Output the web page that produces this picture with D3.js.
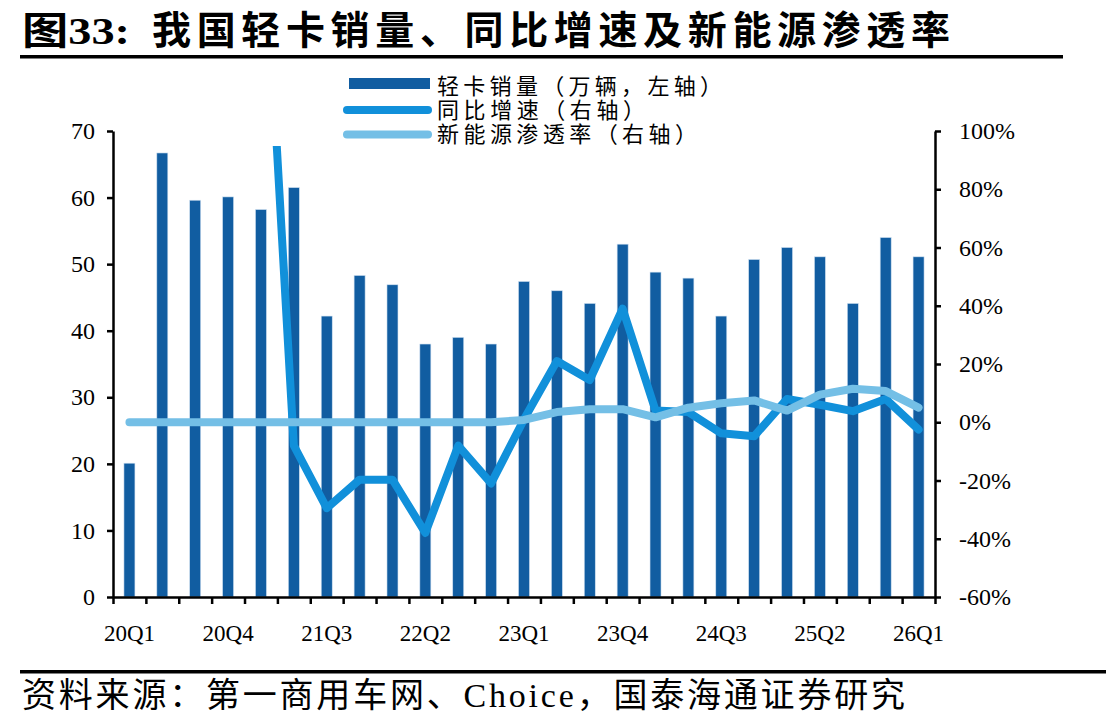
<!DOCTYPE html>
<html>
<head>
  <meta charset="utf-8">
  <title>轻卡销量</title>
  <style>
    body { margin: 0; background: #fff; }
    text { font-family: "Liberation Serif", "Noto Sans CJK SC", serif; fill: #000; }
  </style>
</head>
<body>
  <div id="chart"></div>
  <script src="https://cdn.jsdelivr.net/npm/d3@7"></script>
  <script>
    // quarters 20Q1 ~ 26Q1
    const quarters = ["20Q1","20Q2","20Q3","20Q4","21Q1","21Q2","21Q3","21Q4","22Q1","22Q2","22Q3","22Q4",
      "23Q1","23Q2","23Q3","23Q4","24Q1","24Q2","24Q3","24Q4","25Q1","25Q2","25Q3","25Q4","26Q1"];
    const tickLabels = ["20Q1","20Q4","21Q3","22Q2","23Q1","23Q4","24Q3","25Q2","26Q1"];
    // 轻卡销量（万辆）
    const sales = [20.1, 66.7, 59.6, 60.1, 58.2, 61.5, 42.2, 48.3, 46.9, 38.0, 39.0, 38.0,
      47.4, 46.0, 44.1, 53.0, 48.8, 47.9, 42.2, 50.7, 52.5, 51.1, 44.1, 54.0, 51.1];
    // 同比增速 (%)
    const yoy = [null, null, null, null, 190, -8, -29.5, -19.7, -19.7, -38, -8, -21,
      1, 21, 14.5, 39, 4, 3.5, -3.8, -4.8, 8, 6, 3.8, 8, -2.5];
    // 新能源渗透率 (%)
    const nev = [0, 0, 0, 0, 0, 0, 0, 0, 0, 0, 0, 0,
      0.8, 3.5, 4.5, 4.5, 1.7, 5, 6.5, 7.5, 4, 9.5, 11.5, 10.7, 5];
    const leftTicks = [0, 10, 20, 30, 40, 50, 60, 70];
    const rightTicks = [-60, -40, -20, 0, 20, 40, 60, 80, 100];
    const legendNames = ["轻卡销量（万辆，左轴）", "同比增速（右轴）", "新能源渗透率（右轴）"];

    const W = 1106, H = 728;
    const plot = { left: 113, right: 935, top: 131, bottom: 597 };

    const svg = d3.select("#chart").append("svg")
      .attr("width", W).attr("height", H);

    // title
    svg.append("text").attr("x", 22).attr("y", 44)
      .attr("font-size", 38).attr("font-weight", "bold")
      .attr("textLength", 108).attr("lengthAdjust", "spacingAndGlyphs")
      .text("图33:");
    svg.append("text").attr("x", 152).attr("y", 44)
      .attr("font-size", 39).attr("font-weight", "bold")
      .attr("font-family", "Noto Sans CJK SC")
      .attr("textLength", 798).attr("lengthAdjust", "spacing")
      .text("我国轻卡销量、同比增速及新能源渗透率");
    svg.append("rect").attr("x", 20).attr("y", 55).attr("width", 1043).attr("height", 3.5).attr("fill", "#000");

    // source
    svg.append("rect").attr("x", 20).attr("y", 670).attr("width", 1086).attr("height", 3.5).attr("fill", "#000");
    svg.append("text").attr("x", 22).attr("y", 707)
      .attr("font-size", 34)
      .attr("textLength", 883).attr("lengthAdjust", "spacing")
      .text("资料来源：第一商用车网、Choice，国泰海通证券研究");

    // scales
    const x = d3.scaleBand().domain(quarters).range([plot.left, plot.right]).padding(0);
    const xi = d3.scaleLinear().domain([0, quarters.length]).range([plot.left, plot.right]);
    const yL = d3.scaleLinear().domain([0, 70]).range([plot.bottom, plot.top]);
    const yR = d3.scaleLinear().domain([-60, 100]).range([plot.bottom, plot.top]);
    const cx = d => x(d) + x.bandwidth() / 2;
    const barW = 11;

    // bars
    svg.append("g").selectAll("rect")
      .data(quarters)
      .enter().append("rect")
      .attr("x", (d) => cx(d) - barW / 2)
      .attr("y", (d, i) => yL(sales[i]))
      .attr("width", barW)
      .attr("height", (d, i) => yL(0) - yL(sales[i]))
      .attr("fill", "#115da1")
      .attr("stroke", "#cfe0f1")
      .attr("stroke-width", 0.6);

    // lines (yoy clipped just below the legend)
    svg.append("clipPath").attr("id", "clip")
      .append("rect").attr("x", 0).attr("y", 146).attr("width", W).attr("height", plot.bottom - 146 + 10);

    const line = d3.line()
      .defined(d => d.v != null)
      .x(d => cx(d.q))
      .y(d => yR(d.v));

    svg.append("path")
      .datum(quarters.map((q, i) => ({ q, v: yoy[i] })))
      .attr("clip-path", "url(#clip)")
      .attr("d", line)
      .attr("fill", "none")
      .attr("stroke", "#1190da")
      .attr("stroke-width", 8)
      .attr("stroke-linejoin", "round")
      .attr("stroke-linecap", "round");

    svg.append("path")
      .datum(quarters.map((q, i) => ({ q, v: nev[i] })))
      .attr("d", line)
      .attr("fill", "none")
      .attr("stroke", "#74bfe6")
      .attr("stroke-width", 8)
      .attr("stroke-linejoin", "round")
      .attr("stroke-linecap", "round");

    // axes
    const gL = svg.append("g")
      .attr("transform", `translate(${plot.left},0)`)
      .call(d3.axisLeft(yL).tickValues(leftTicks).tickSize(6).tickSizeOuter(0).tickPadding(12));
    const gR = svg.append("g")
      .attr("transform", `translate(${plot.right},0)`)
      .call(d3.axisRight(yR).tickValues(rightTicks).tickSize(6).tickSizeOuter(0).tickPadding(18)
        .tickFormat(d => d + "%"));
    const gX = svg.append("g")
      .attr("transform", `translate(0,${plot.bottom})`)
      .call(d3.axisBottom(xi).tickValues(d3.range(quarters.length + 1)).tickSize(7).tickSizeOuter(0).tickFormat(""));

    [gL, gR, gX].forEach(g => {
      g.selectAll("path, line").attr("stroke", "#000").attr("stroke-width", 2.5);
      g.selectAll("text").attr("font-size", 24).attr("font-family", "Liberation Serif").attr("fill", "#000");
    });

    svg.append("g").selectAll("text")
      .data(tickLabels)
      .enter().append("text")
      .attr("x", d => cx(d))
      .attr("y", 641)
      .attr("text-anchor", "middle")
      .attr("font-size", 23)
      .attr("font-family", "Liberation Serif")
      .text(d => d);

    // legend
    const lg = svg.append("g");
    lg.append("rect").attr("x", 349).attr("y", 78).attr("width", 81).attr("height", 11).attr("fill", "#115da1");
    lg.append("line").attr("x1", 347).attr("x2", 428).attr("y1", 110).attr("y2", 110)
      .attr("stroke", "#1190da").attr("stroke-width", 8).attr("stroke-linecap", "round");
    lg.append("line").attr("x1", 347).attr("x2", 428).attr("y1", 134.5).attr("y2", 134.5)
      .attr("stroke", "#74bfe6").attr("stroke-width", 8).attr("stroke-linecap", "round");
    const legendLen = [285, 208, 260];
    lg.selectAll("text.lt").data(legendNames).enter().append("text")
      .attr("x", 437)
      .attr("y", (d, i) => 94 + i * 24)
      .attr("font-size", 22)
      .attr("font-family", "Noto Sans CJK SC")
      .attr("textLength", (d, i) => legendLen[i])
      .attr("lengthAdjust", "spacing")
      .text(d => d);
  </script>
</body>
</html>
